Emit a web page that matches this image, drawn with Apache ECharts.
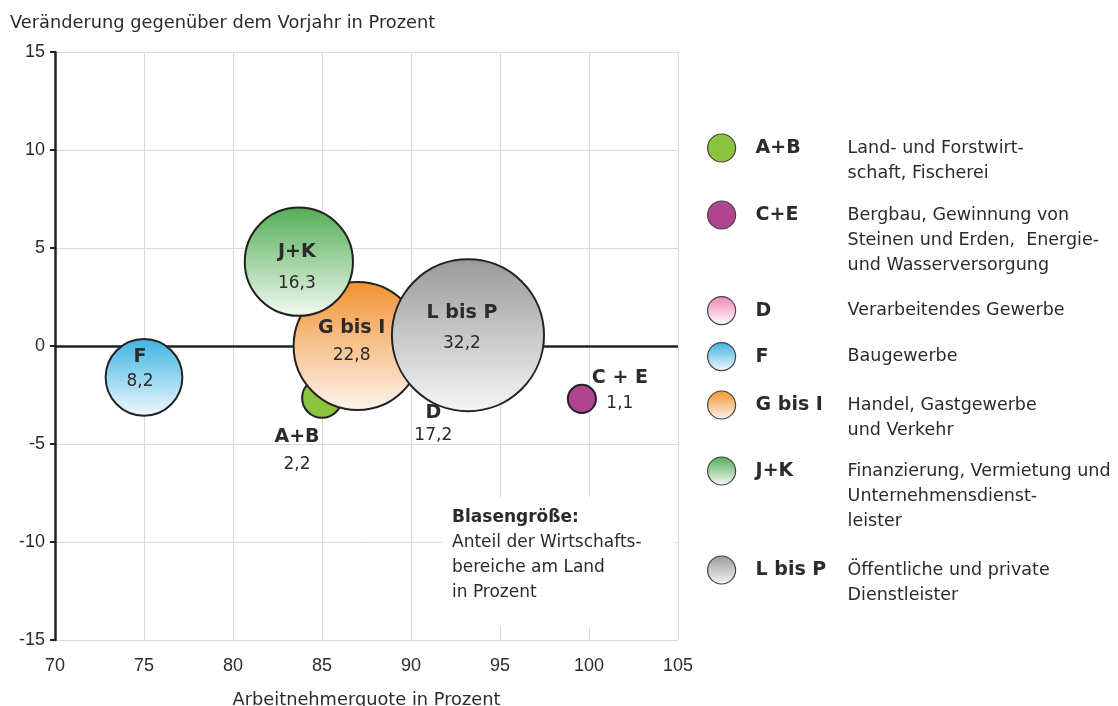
<!DOCTYPE html>
<html>
<head>
<meta charset="utf-8">
<script src="https://cdn.jsdelivr.net/npm/echarts@6/dist/echarts.min.js"></script>
<style>
  html, body { margin: 0; padding: 0; background: #fff; }
  #chart { width: 1118px; height: 706px; }
</style>
</head>
<body>
<div id="chart"></div>
<script>
// data
const sectors = ['A+B', 'C+E', 'D', 'F', 'G bis I', 'J+K', 'L bis P'];
const quote   = [85.0, 99.6, 92.6, 75.0, 87.0, 83.7, 93.2];   // Arbeitnehmerquote in %
const change  = [-2.65, -2.7, 0.3, -1.6, 0.0, 4.3, 0.55];    // Veraenderung zum Vorjahr in %
const share   = [2.2, 1.1, 17.2, 8.2, 22.8, 16.3, 32.2];     // Anteil am Land in % (Blasengroesse)
const xRange  = [70, 105];
const yRange  = [-15, 15];
const descriptions = [
  ['Land- und Forstwirt-', 'schaft, Fischerei'],
  ['Bergbau, Gewinnung von', 'Steinen und Erden,  Energie-', 'und Wasserversorgung'],
  ['Verarbeitendes Gewerbe'],
  ['Baugewerbe'],
  ['Handel, Gastgewerbe', 'und Verkehr'],
  ['Finanzierung, Vermietung und', 'Unternehmensdienst-', 'leister'],
  ['Öffentliche und private', 'Dienstleister']
];

// styling
const FONT = 'DejaVu Sans';
const TXT = '#2b2b2b';
const fills = {
  'A+B':     ['#8cc43e', '#8cc43e'],
  'C+E':     ['#b0448f', '#b0448f'],
  'D':       ['#ef84b4', '#ffffff'],
  'F':       ['#3db2e2', '#f2f9fd'],
  'G bis I': ['#f29230', '#fdf4ee'],
  'J+K':     ['#52ad55', '#f3faf2'],
  'L bis P': ['#999999', '#f6f6f6']
};
// label placement: [dx, dy, lineHeight]
const labelPos = {
  'A+B':     [-25, 53, 28],
  'C+E':     [38, -8, 25],
  'D':       [-24, 84, 22],
  'F':       [-4, -8, 24],
  'G bis I': [-6, -4, 27],
  'J+K':     [-2, 6, 32],
  'L bis P': [-6, -7, 30]
};
const legendY = [148, 215, 310, 356, 405, 471, 570];
const drawOrder = ['D', 'A+B', 'G bis I', 'J+K', 'L bis P', 'F', 'C+E'];

function grad(name) {
  const c = fills[name];
  return new echarts.graphic.LinearGradient(0, 0, 0, 1, [
    {offset: 0, color: c[0]},
    {offset: 1, color: c[1]}
  ]);
}

const chart = echarts.init(document.getElementById('chart'));

const series = drawOrder.map((name, k) => {
  const i = sectors.indexOf(name);
  const lp = labelPos[name];
  const s = {
    name: name,
    type: 'scatter',
    data: [[quote[i], change[i], share[i]]],
    symbolSize: v => 26.8 * Math.sqrt(v[2]),
    itemStyle: {color: grad(name), borderColor: '#222', borderWidth: 2, opacity: 1},
    emphasis: {disabled: true},
    label: {
      show: true,
      position: 'inside',
      offset: [lp[0], lp[1]],
      formatter: p => '{n|' + (name === 'C+E' ? 'C + E' : name) + '}\n{v|' + String(p.value[2]).replace('.', ',') + '}',
      rich: {
        n: {fontFamily: FONT, fontWeight: 'bold', fontSize: 19, color: TXT, lineHeight: lp[2], align: 'center'},
        v: {fontFamily: FONT, fontSize: 17, color: TXT, lineHeight: lp[2], align: 'center'}
      }
    }
  };
  if (k === 0) {
    // Nulllinie
    s.markLine = {
      silent: true, z: 1, symbol: ['none', 'none'],
      label: {show: false},
      lineStyle: {color: '#222', width: 2.5, type: 'solid'},
      data: [{yAxis: 0}]
    };
  }
  return s;
});

const legends = sectors.map((name, i) => {
  const lines = descriptions[i];
  const n = lines.length;
  const lh = 25;
  const h = Math.max(28, (2 * n - 1) * lh);
  const blank = '{sp|\u00a0}{code|\u00a0}{desc|\u00a0}\n';
  const text = blank.repeat(n - 1) +
    lines.map((l, k) => '{sp|\u00a0}{code|' + (k === 0 ? name : '\u00a0') + '}{desc|' + l + '}').join('\n');
  return {
    data: [name],
    left: 707,
    top: legendY[i] - h / 2 + (n > 1 ? 3 : 0),
    padding: 0,
    orient: 'vertical',
    icon: 'circle',
    itemWidth: 30,
    itemHeight: 28,
    selectedMode: false,
    itemStyle: {borderWidth: 1.2, borderColor: '#444'},
    formatter: () => text,
    textStyle: {
      rich: {
        sp: {width: 14, lineHeight: lh, fontSize: 10},
        code: {fontFamily: FONT, fontWeight: 'bold', fontSize: 19, color: TXT, width: 92, lineHeight: lh},
        desc: {fontFamily: FONT, fontSize: 17.5, color: TXT, lineHeight: lh}
      }
    }
  };
});

const option = {
  animation: false,
  backgroundColor: '#fff',
  title: {
    text: 'Veränderung gegenüber dem Vorjahr in Prozent',
    left: 5, top: 9,
    textStyle: {fontFamily: FONT, fontSize: 17.8, fontWeight: 'normal', color: TXT}
  },
  grid: {left: 55, right: 440, top: 52, bottom: 66, outerBoundsMode: 'none'},
  xAxis: {
    type: 'value', min: xRange[0], max: xRange[1], interval: 5,
    axisLine: {show: false}, axisTick: {show: false},
    axisLabel: {fontFamily: 'Liberation Sans', fontSize: 18, color: TXT, margin: 17},
    splitLine: {lineStyle: {color: '#dadada', width: 1}},
    name: 'Arbeitnehmerquote in Prozent', nameLocation: 'middle', nameGap: 51,
    nameTextStyle: {fontFamily: FONT, fontSize: 17.8, color: TXT}
  },
  yAxis: {
    type: 'value', min: yRange[0], max: yRange[1], interval: 5,
    axisLine: {show: true, onZero: false, lineStyle: {color: '#222', width: 2.5}},
    axisTick: {show: true, length: 5, lineStyle: {color: '#222', width: 2}},
    axisLabel: {fontFamily: 'Liberation Sans', fontSize: 18, color: TXT, margin: 10},
    splitLine: {lineStyle: {color: '#dadada', width: 1}}
  },
  legend: legends,
  graphic: [
    {type: 'rect', left: 442, top: 497, z: 100, shape: {width: 233, height: 130}, style: {fill: '#fff'}},
    {type: 'text', left: 452, top: 509, z: 101, style: {
      text: '{b|Blasengröße:}\n{r|Anteil der Wirtschafts-}\n{r|bereiche am Land}\n{r|in Prozent}',
      rich: {
        b: {fontFamily: FONT, fontWeight: 'bold', fontSize: 17, fill: TXT, lineHeight: 25},
        r: {fontFamily: FONT, fontSize: 17, fill: TXT, lineHeight: 25}
      }
    }}
  ],
  series: series
};

chart.setOption(option);
</script>
</body>
</html>
